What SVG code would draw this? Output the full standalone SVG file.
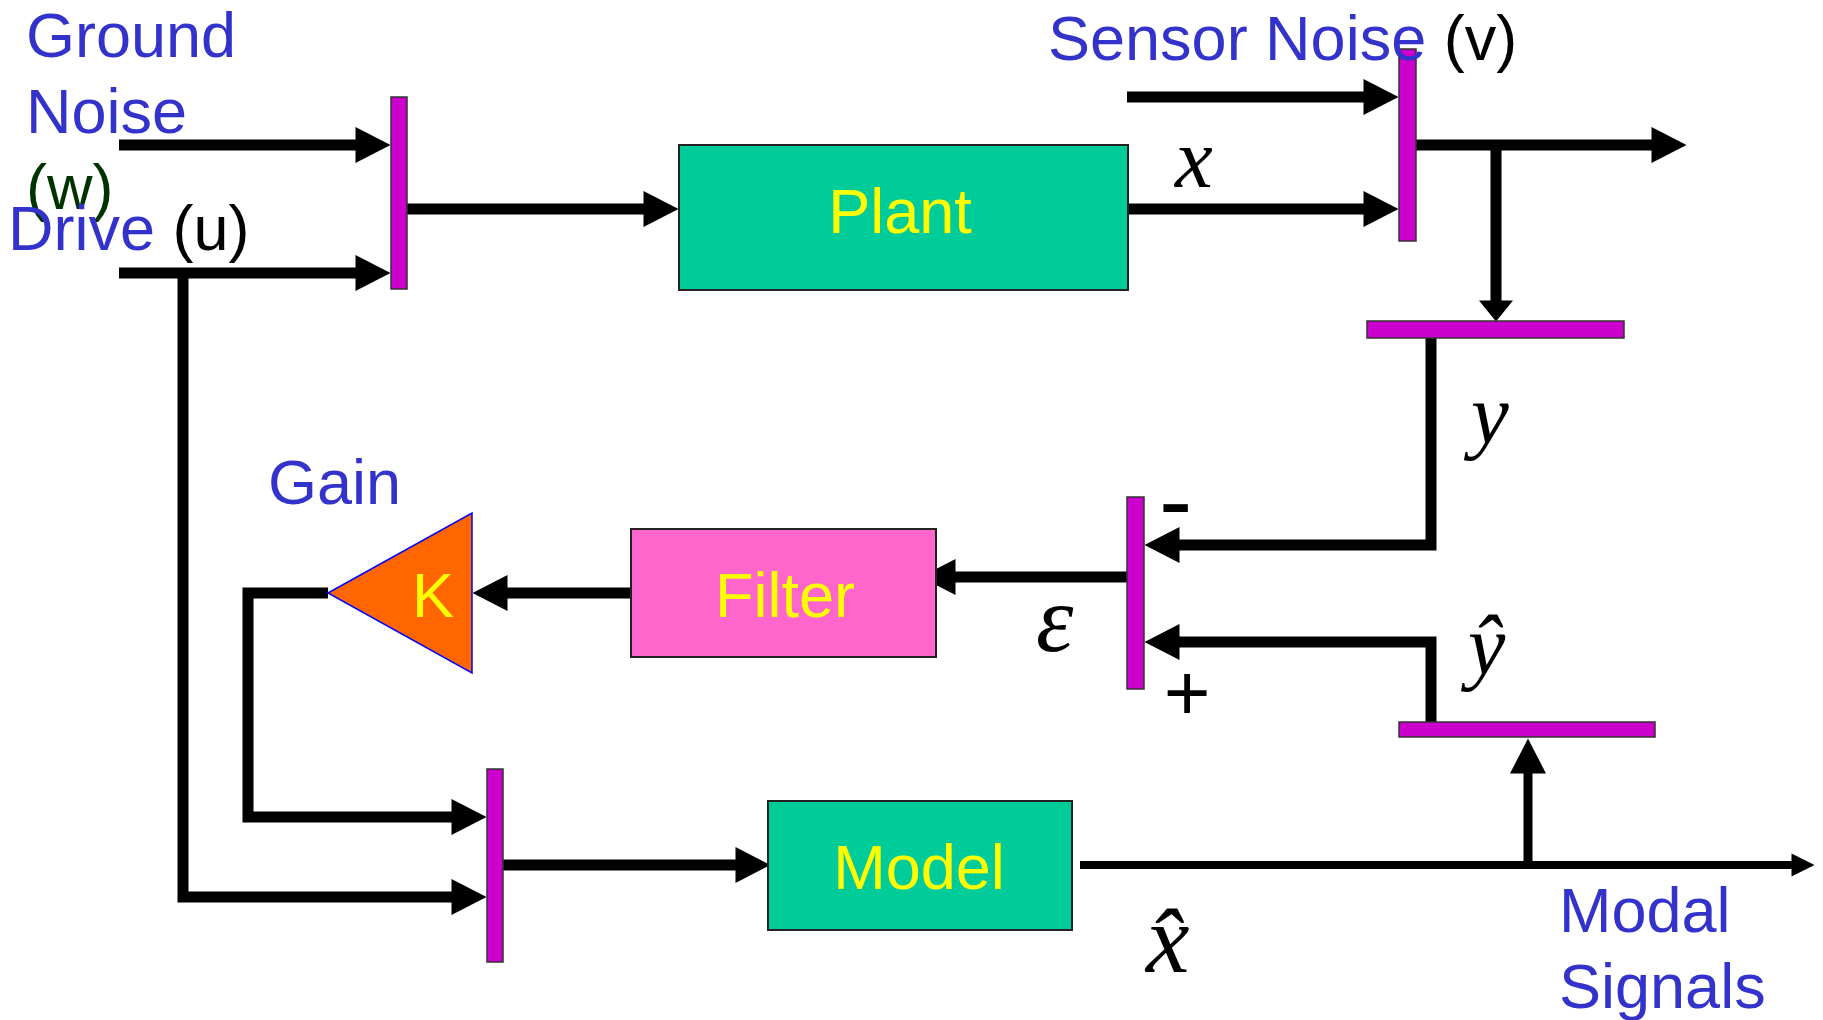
<svg xmlns="http://www.w3.org/2000/svg" width="1823" height="1020" viewBox="0 0 1823 1020">
<style>
.lbl{font-family:"Liberation Sans",Arial,sans-serif;font-size:63px;fill:#3333CC}
.blk{fill:#000}
.box{stroke:#222;stroke-width:2}
.btxt{font-family:"Liberation Sans",Arial,sans-serif;font-size:63px;fill:#FFFF00;text-anchor:middle}
.bar{fill:#CC00CC;stroke:#333;stroke-width:1.5}
.math{font-family:"Liberation Serif","Times New Roman",serif;font-style:italic;fill:#000}
.w{fill:none;stroke:#000;stroke-width:11;stroke-linejoin:miter}
</style>
<defs>
<marker id="ah" markerUnits="userSpaceOnUse" markerWidth="36" markerHeight="36" refX="0.5" refY="18" orient="auto" overflow="visible"><path d="M0,0 L35,18 L0,36 Z" fill="#000"/></marker>
<marker id="ahd" markerUnits="userSpaceOnUse" markerWidth="21" markerHeight="34" refX="0.5" refY="17" orient="auto" overflow="visible"><path d="M0,0 L21,17 L0,34 Z" fill="#000"/></marker>
<marker id="ahs" markerUnits="userSpaceOnUse" markerWidth="24" markerHeight="24" refX="0.5" refY="11.5" orient="auto" overflow="visible"><path d="M0,0 L23,11.5 L0,23 Z" fill="#000"/></marker>
</defs>
<rect width="1823" height="1020" fill="#fff"/>

<g id="connectors">
<path class="w" d="M119,145 H356" marker-end="url(#ah)"/>
<path class="w" d="M119,273 H356" marker-end="url(#ah)"/>
<path class="w" d="M183,273 V897 H452" marker-end="url(#ah)"/>
<path class="w" d="M407,209 H644" marker-end="url(#ah)"/>
<path class="w" d="M1128,209 H1364" marker-end="url(#ah)"/>
<path class="w" d="M1127,97 H1364" marker-end="url(#ah)"/>
<path class="w" d="M1416,145 H1652" marker-end="url(#ah)"/>
<path class="w" d="M1496,145 V301" marker-end="url(#ahd)"/>
<path class="w" d="M1431,338 V545 H1179" marker-end="url(#ah)"/>
<path class="w" d="M1431,722 V642 H1179" marker-end="url(#ah)"/>
<path class="w" d="M1127,577 H955" marker-end="url(#ah)"/>
<path class="w" d="M631,593 H507" marker-end="url(#ah)"/>
<path class="w" d="M328,593 H248 V817 H452" marker-end="url(#ah)"/>
<path class="w" d="M503,865 H736" marker-end="url(#ah)"/>
<path class="w" d="M1080,865 H1792" style="stroke-width:8" marker-end="url(#ahs)"/>
<path class="w" d="M1528,865 V773" style="stroke-width:9" marker-end="url(#ah)"/>
</g>

<g id="sum-input"><rect class="bar" x="391" y="97" width="16" height="192"/></g>
<g id="sum-sensor"><rect class="bar" x="1399" y="49" width="17" height="192"/></g>
<g id="pick-y"><rect class="bar" x="1367" y="321" width="257" height="17"/></g>
<g id="sum-error"><rect class="bar" x="1127" y="497" width="17" height="192"/></g>
<g id="pick-yhat"><rect class="bar" x="1399" y="722" width="256" height="15"/></g>
<g id="sum-model"><rect class="bar" x="487" y="769" width="16" height="193"/></g>

<g id="plant">
<rect class="box" x="679" y="145" width="449" height="145" fill="#00CC99"/>
<text class="btxt" x="900" y="233">Plant</text>
</g>
<g id="filter">
<rect class="box" x="631" y="529" width="305" height="128" fill="#FF66CC"/>
<text class="btxt" x="785" y="617">Filter</text>
</g>
<g id="model">
<rect class="box" x="768" y="801" width="304" height="129" fill="#00CC99"/>
<text class="btxt" x="919" y="889">Model</text>
</g>
<g id="gain">
<polygon points="328,593 472,513 472,673" fill="#FF6600" stroke="#0000FF" stroke-width="1.5"/>
<text class="btxt" x="433" y="617">K</text>
</g>

<g id="labels">
<text class="lbl" x="26" y="57">Ground</text>
<text class="lbl" x="26" y="133">Noise</text>
<text class="lbl" x="26" y="209" style="fill:#003300">(w)</text>
<text class="lbl" x="8" y="250">Drive <tspan class="blk">(u)</tspan></text>
<text class="lbl" x="1048" y="60">Sensor Noise <tspan class="blk">(v)</tspan></text>
<text class="lbl" x="268" y="504">Gain</text>
<text class="lbl" x="1559" y="932">Modal</text>
<text class="lbl" x="1559" y="1008">Signals</text>
<text class="math" x="1175" y="187" font-size="85">x</text>
<text class="math" x="1471" y="443" font-size="85">y</text>
<text class="math" x="1036" y="651" font-size="95">ε</text>
<text class="math" x="1468" y="674" font-size="84">ŷ</text>
<text class="math" x="1146" y="972" font-size="98">x̂</text>
<text x="1159" y="535" font-family="Liberation Sans,Arial,sans-serif" font-size="100">-</text>
<text x="1187" y="720" font-family="Liberation Sans,Arial,sans-serif" font-size="80" text-anchor="middle">+</text>
</g>
</svg>
